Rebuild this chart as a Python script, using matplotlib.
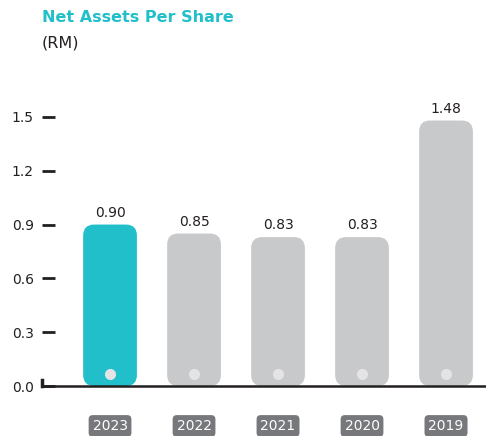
import matplotlib
matplotlib.use('Agg')

import matplotlib.pyplot as plt
from matplotlib.patches import FancyBboxPatch
import matplotlib.transforms as mtransforms

# data
years = ['2023', '2022', '2021', '2020', '2019']
values = [0.90, 0.85, 0.83, 0.83, 1.48]
labels = ['0.90', '0.85', '0.83', '0.83', '1.48']
bar_colors = ['#20bfca', '#c8c9cb', '#c8c9cb', '#c8c9cb', '#c8c9cb']
yticks = [0.0, 0.3, 0.6, 0.9, 1.2, 1.5]

W, H = 486, 436
fig = plt.figure(figsize=(W / 100, H / 100), dpi=100)
ax = fig.add_axes([42 / W, 50 / H, 1 - 42 / W, 287 / H])

xmin, xmax = -0.81, 4.476
ymin, ymax = 0.0, 1.6
ax.set_xlim(xmin, xmax)
ax.set_ylim(ymin, ymax)

# data units per pixel, used to keep bar corners round
ax_w = (1 - 42 / W) * W
ax_h = 287
x_per_px = (xmax - xmin) / ax_w
y_per_px = (ymax - ymin) / ax_h
radius_px = 11
bar_w = 0.64

for i, (v, c, lab) in enumerate(zip(values, bar_colors, labels)):
    box = FancyBboxPatch((i - bar_w / 2, 0), bar_w, v,
                         boxstyle=f"round,pad=0,rounding_size={radius_px * x_per_px}",
                         mutation_aspect=y_per_px / x_per_px,
                         facecolor=c, edgecolor='none', zorder=2)
    ax.add_patch(box)
    ax.plot(i, 12 * y_per_px, 'o', ms=8, color='#e4e4e6', mec='none', zorder=3)
    ax.text(i, v + 5 * y_per_px, lab, ha='center', va='bottom',
            fontsize=10, color='#231f20')

# year labels in dark rounded boxes below the axis
trans = mtransforms.blended_transform_factory(ax.transData, ax.transAxes)
for i, yr in enumerate(years):
    ax.text(i, -40 / ax_h, yr, transform=trans, ha='center', va='center',
            fontsize=10, color='white',
            bbox=dict(boxstyle='round,pad=0.28,rounding_size=0.3',
                      fc='#77787b', ec='none'))

ax.set_xticks([])
ax.set_yticks(yticks)
ax.set_yticklabels([f'{t:.1f}' for t in yticks], fontsize=10, color='#231f20')
ax.tick_params(axis='y', direction='in', length=9, width=2, color='#231f20', pad=6)

for s in ['top', 'right', 'left']:
    ax.spines[s].set_visible(False)
ax.spines['bottom'].set_color('#231f20')
ax.spines['bottom'].set_linewidth(1.8)
ax.spines['bottom'].set_zorder(4)
# little stub at the origin
ax.plot([xmin, xmin], [0, 6 * y_per_px], color='#231f20', lw=2.5,
        clip_on=False, zorder=4)

fig.text(42 / W, 1 - 18 / H, 'Net Assets Per Share', fontsize=11.5,
         fontweight='bold', color='#20bfca', va='center', ha='left')
fig.text(42 / W, 1 - 43 / H, '(RM)', fontsize=11.5, color='#231f20',
         va='center', ha='left')

fig.savefig('out.png', dpi=100)
plt.close(fig)
